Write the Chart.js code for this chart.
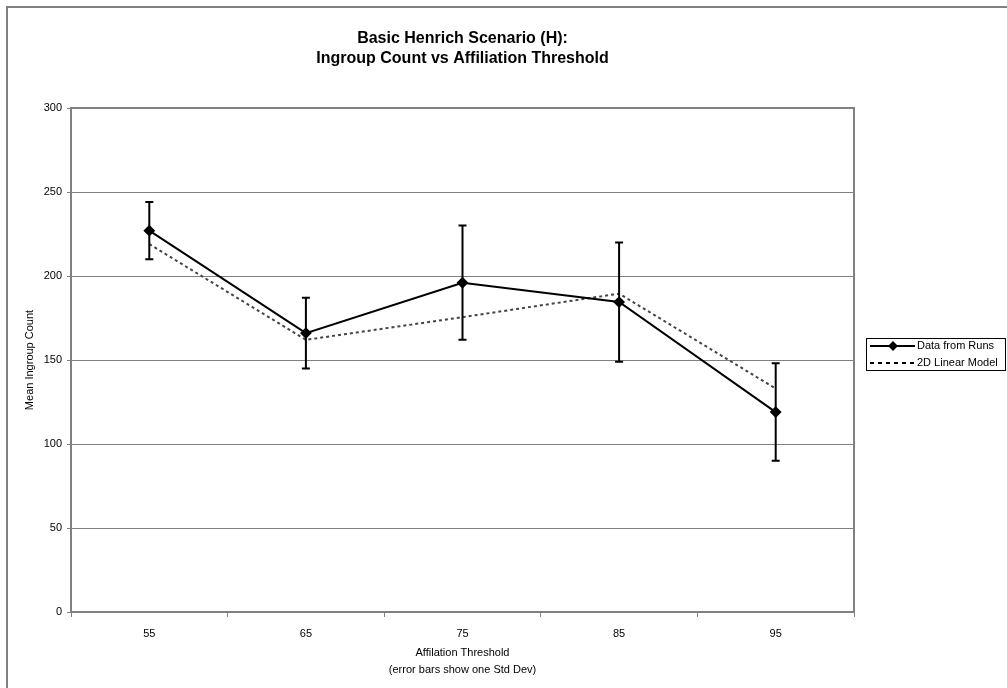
<!DOCTYPE html>
<html>
<head>
<meta charset="utf-8">
<script src="https://cdn.jsdelivr.net/npm/chart.js@4/dist/chart.umd.min.js"></script>
<style>
  html, body { margin: 0; padding: 0; background: #fff; }
  #wrap { width: 1007px; height: 688px; position: relative; }
</style>
</head>
<body>
<div id="wrap"><canvas id="myChart" width="1007" height="688"></canvas></div>
<script>
// Affiliation thresholds (x categories)
const thresholds = ['55', '65', '75', '85', '95'];
// Mean ingroup count from the runs, with one std dev
const runMeans = [227, 166, 196, 184.5, 119];
const runStdDev = [17, 21, 34, 35.5, 29];
// 2D linear model fit
const modelValues = [219, 162, 175.5, 189.5, 133];

const FONT = '"Liberation Sans", Arial, sans-serif';
const GRAY = '#808080';

// Draws the std dev whiskers through the y scale
const errorBars = {
  id: 'errorBars',
  afterDatasetsDraw(chart) {
    const ctx = chart.ctx;
    const y = chart.scales.y;
    const meta = chart.getDatasetMeta(0);
    ctx.save();
    ctx.strokeStyle = '#000';
    ctx.lineWidth = 2;
    meta.data.forEach((pt, i) => {
      const top = y.getPixelForValue(runMeans[i] + runStdDev[i]);
      const bot = y.getPixelForValue(runMeans[i] - runStdDev[i]);
      ctx.beginPath();
      ctx.moveTo(pt.x, top); ctx.lineTo(pt.x, bot);
      ctx.moveTo(pt.x - 4, top); ctx.lineTo(pt.x + 4, top);
      ctx.moveTo(pt.x - 4, bot); ctx.lineTo(pt.x + 4, bot);
      ctx.stroke();
    });
    ctx.restore();
  }
};

// Plot frame (top/right), outer chart border and the boxed legend
const frameAndLegend = {
  id: 'frameAndLegend',
  afterLayout(chart) {
    // center the title over the plot area, like the original
    if (chart.titleBlock) {
      chart.titleBlock.left = chart.chartArea.left;
      chart.titleBlock.right = chart.chartArea.right;
    }
  },
  beforeDatasetsDraw(chart) {
    const { ctx, chartArea: a } = chart;
    ctx.save();
    ctx.strokeStyle = GRAY;
    ctx.lineWidth = 2;
    ctx.beginPath();
    ctx.moveTo(a.left, a.top); ctx.lineTo(a.right, a.top); ctx.lineTo(a.right, a.bottom);
    ctx.stroke();
    ctx.restore();
  },
  afterDraw(chart) {
    const { ctx, chartArea: a } = chart;
    ctx.save();
    // outer border
    ctx.fillStyle = GRAY;
    ctx.fillRect(6, 6, 1001, 2);
    ctx.fillRect(6, 6, 2, 682);

    // legend
    const bx = a.right + 12, by = (a.top + a.bottom) / 2 - 22;
    const bw = 139, bh = 32;
    ctx.strokeStyle = '#000';
    ctx.lineWidth = 1;
    ctx.strokeRect(bx + 0.5, by + 0.5, bw, bh);
    const rows = chart.data.datasets;
    rows.forEach((ds, i) => {
      const ry = by + 8 + i * 17;
      ctx.beginPath();
      ctx.strokeStyle = '#000';
      ctx.lineWidth = 2;
      ctx.setLineDash(i === 0 ? [] : [4, 4]);
      ctx.moveTo(bx + 4, ry); ctx.lineTo(bx + 49, ry);
      ctx.stroke();
      ctx.setLineDash([]);
      if (i === 0) {
        const cx = bx + 27;
        ctx.fillStyle = '#000';
        ctx.beginPath();
        ctx.moveTo(cx, ry - 5); ctx.lineTo(cx + 5, ry); ctx.lineTo(cx, ry + 5); ctx.lineTo(cx - 5, ry);
        ctx.closePath();
        ctx.fill();
      }
      ctx.fillStyle = '#000';
      ctx.font = '11px ' + FONT;
      ctx.textBaseline = 'middle';
      ctx.textAlign = 'left';
      ctx.fillText(ds.label, bx + 51, ry);
    });
    ctx.restore();
  }
};

const ctx = document.getElementById('myChart').getContext('2d');
new Chart(ctx, {
  type: 'line',
  data: {
    labels: thresholds,
    datasets: [
      {
        label: 'Data from Runs',
        data: runMeans,
        borderColor: '#000',
        backgroundColor: '#000',
        borderWidth: 2,
        pointStyle: 'rectRot',
        pointRadius: 4.5,
        pointHoverRadius: 4.5,
        tension: 0
      },
      {
        label: '2D Linear Model',
        data: modelValues,
        borderColor: '#444',
        borderWidth: 2,
        borderDash: [3, 3],
        pointRadius: 0,
        tension: 0
      }
    ]
  },
  options: {
    responsive: false,
    animation: false,
    layout: { padding: { left: 19, right: 153, top: 0, bottom: 6.5 } },
    scales: {
      x: {
        offset: true,
        grid: { drawOnChartArea: false, offset: true, tickLength: 5, color: GRAY },
        border: { color: GRAY, width: 2 },
        ticks: { color: '#000', padding: 10, font: { family: FONT, size: 11 } },
        title: {
          display: true,
          text: ['Affilation Threshold', '(error bars show one Std Dev)'],
          color: '#000',
          padding: { top: 4, bottom: 3 },
          font: { family: FONT, size: 11, lineHeight: 1.55 }
        },
        afterFit: (scale) => { scale.height = 69.5; }
      },
      y: {
        min: 0,
        max: 300,
        ticks: { stepSize: 50, color: '#000', padding: 5, font: { family: FONT, size: 11 } },
        grid: { color: GRAY, tickLength: 4 },
        border: { color: GRAY, width: 2 },
        title: {
          display: true,
          text: 'Mean Ingroup Count',
          color: '#000',
          font: { family: FONT, size: 11 }
        },
        afterFit: (scale) => { scale.width = 52; }
      }
    },
    plugins: {
      legend: { display: false },
      tooltip: { enabled: false },
      title: {
        display: true,
        text: ['Basic Henrich Scenario (H):', 'Ingroup Count vs Affiliation Threshold'],
        color: '#000',
        font: { family: FONT, size: 16, weight: 'bold', lineHeight: 1.25 },
        padding: { top: 29, bottom: 39 }
      }
    }
  },
  plugins: [errorBars, frameAndLegend]
});
</script>
</body>
</html>
